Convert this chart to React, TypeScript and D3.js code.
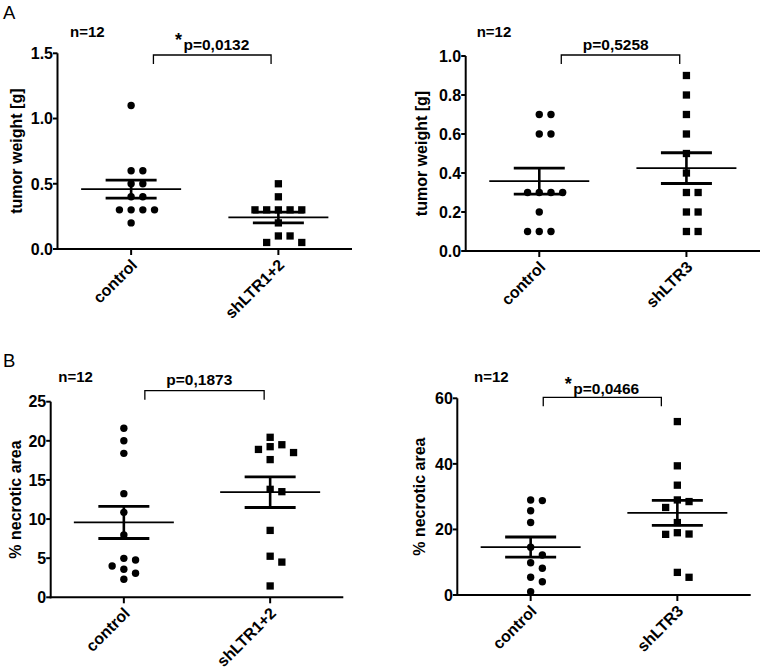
import React from 'react';
import * as d3 from 'd3';

// ---------- DATA ----------
const catsA1 = ['control', 'shLTR1+2'];
const a1Control = [1.1, 0.6, 0.6, 0.5, 0.5, 0.4, 0.4, 0.3, 0.3, 0.3, 0.3, 0.2];
const a1Sh = [0.5, 0.4, 0.3, 0.3, 0.3, 0.3, 0.3, 0.2, 0.1, 0.1, 0.05, 0.05];
const a1Ticks = [0, 0.5, 1.0, 1.5];

const catsA2 = ['control', 'shLTR3'];
const a2Control = [0.7, 0.7, 0.6, 0.6, 0.3, 0.3, 0.3, 0.3, 0.2, 0.1, 0.1, 0.1];
const a2Sh = [0.9, 0.8, 0.7, 0.6, 0.5, 0.4, 0.3, 0.3, 0.2, 0.2, 0.1, 0.1];
const a2Ticks = [0, 0.2, 0.4, 0.6, 0.8, 1.0];

const catsB1 = ['control', 'shLTR1+2'];
const b1Control = [21.6, 20.0, 18.4, 13.25, 10.86, 7.96, 4.98, 4.77, 4.0, 3.58, 3.07, 2.3];
const b1Sh = [20.45, 19.5, 18.9, 19.25, 18.5, 17.6, 13.8, 13.5, 8.55, 5.25, 4.5, 1.45];
const b1Ticks = [0, 5, 10, 15, 20, 25];

const catsB2 = ['control', 'shLTR3'];
const b2Control = [28.8, 29.0, 25.7, 22.1, 14.55, 12.2, 9.85, 8.15, 5.4, 4.06, 1.0];
const b2Sh = [52.9, 39.4, 33.5, 29.0, 28.5, 26.7, 22.1, 18.6, 18.5, 19.0, 5.4, 6.9];
const b2Ticks = [0, 20, 40, 60];

const pA1 = 'p=0,0132';
const pA2 = 'p=0,5258';
const pB1 = 'p=0,1873';
const pB2 = 'p=0,0466';
const nText = 'n=12';
const yTitleA = 'tumor weight [g]';
const yTitleB = '% necrotic area';

// ---------- LAYOUT ----------
const FONT = '"Liberation Sans", Arial, Helvetica, sans-serif';

type Panel = {
  letter?: string;
  letterY?: number;
  cats: string[];
  series: number[][];
  domain: [number, number];
  ticks: number[];
  fmt: (v: number) => string;
  yTitle: string;
  pText: string;
  star: boolean;
  x0: number; x1: number; yTop: number; yBot: number;
  bracket: [number, number]; bracketTop: number;
  pBase: number;
  nX: number; nBase: number;
  titleX: number;
};

const f1 = d3.format('.1f');
const f0 = d3.format('d');

const panels: Panel[] = [
  {
    letter: 'A', letterY: 18.5,
    cats: catsA1, series: [a1Control, a1Sh], domain: [0, 1.5], ticks: a1Ticks, fmt: f1,
    yTitle: yTitleA, pText: pA1, star: true,
    x0: 57.5, x1: 352, yTop: 53.3, yBot: 249,
    bracket: [22.3, -7.3], bracketTop: 55, pBase: 50,
    nX: 70, nBase: 36.7, titleX: 22,
  },
  {
    cats: catsA2, series: [a2Control, a2Sh], domain: [0, 1.0], ticks: a2Ticks, fmt: f1,
    yTitle: yTitleA, pText: pA2, star: false,
    x0: 465.7, x1: 760, yTop: 56, yBot: 251,
    bracket: [22, -6.7], bracketTop: 55, pBase: 50,
    nX: 476.7, nBase: 36.7, titleX: 427,
  },
  {
    letter: 'B', letterY: 367.3,
    cats: catsB1, series: [b1Control, b1Sh], domain: [0, 25], ticks: b1Ticks, fmt: f0,
    yTitle: yTitleB, pText: pB1, star: false,
    x0: 50.7, x1: 343.3, yTop: 401.7, yBot: 597.3,
    bracket: [21, -6], bracketTop: 390.7, pBase: 385,
    nX: 58.3, nBase: 382.3, titleX: 20.5,
  },
  {
    cats: catsB2, series: [b2Control, b2Sh], domain: [0, 60], ticks: b2Ticks, fmt: f0,
    yTitle: yTitleB, pText: pB2, star: true,
    x0: 457.3, x1: 750.7, yTop: 398.3, yBot: 595,
    bracket: [12.6, -16], bracketTop: 397.3, pBase: 394,
    nX: 474, nBase: 381.7, titleX: 425,
  },
];

const SLOT = 11.7;
const THRESH = 8.5;
const R = 3.7;
const SQ = 7.3;

function swarm(values: number[], y: (v: number) => number) {
  const order = values.map((v, i) => ({ v, i })).sort((a, b) => b.v - a.v);
  const placed: { py: number; s: number }[] = [];
  const out: { v: number; dx: number; py: number }[] = new Array(values.length);
  const cands = [0, 1, -1, 2, -2, 3, -3, 4, -4, 5, -5];
  for (const { v, i } of order) {
    const py = y(v);
    let chosen = 0;
    for (const c of cands) {
      if (!placed.some((p) => p.s === c && Math.abs(p.py - py) < THRESH)) {
        chosen = c;
        break;
      }
    }
    placed.push({ py, s: chosen });
    out[i] = { v, dx: chosen * SLOT, py };
  }
  return out;
}

function PanelView({ p }: { p: Panel }) {
  const x = d3.scalePoint<string>().domain(p.cats).range([p.x0, p.x1]).padding(0.5);
  const y = d3.scaleLinear().domain(p.domain).range([p.yBot, p.yTop]);
  const bx0 = (x(p.cats[0]) as number) + p.bracket[0];
  const bx1 = (x(p.cats[1]) as number) + p.bracket[1];
  const midY = (p.yTop + p.yBot) / 2;
  return (
    <g>
      {p.letter && (
        <text x={3} y={p.letterY} fontSize={18.5} fontFamily={FONT} fill="#000">
          {p.letter}
        </text>
      )}
      <text x={p.nX} y={p.nBase} fontSize={15} fontWeight="bold" fontFamily={FONT}>
        {nText}
      </text>
      {/* bracket */}
      <path
        d={`M${bx0},${p.bracketTop + 9}V${p.bracketTop}H${bx1}V${p.bracketTop + 9}`}
        fill="none"
        stroke="#000"
        strokeWidth={1.3}
      />
      <text x={bx0 + 21.5} y={p.pBase} fontSize={15.5} fontWeight="bold" fontFamily={FONT}>
        {p.star && (
          <tspan fontSize={18} dy={-4}>
            *
          </tspan>
        )}
        <tspan dx={p.star ? 1.5 : 0} dy={p.star ? 4 : 0}>
          {p.pText}
        </tspan>
      </text>
      {/* y title */}
      <text
        transform={`translate(${p.titleX},${midY}) rotate(-90)`}
        textAnchor="middle"
        fontSize={16}
        fontWeight="bold"
        fontFamily={FONT}
      >
        {p.yTitle}
      </text>
      {/* y axis */}
      <line x1={p.x0} x2={p.x0} y1={p.yTop} y2={p.yBot + 1} stroke="#000" strokeWidth={2} />
      {p.ticks.map((t) => (
        <g key={t}>
          <line x1={p.x0 - 4.5} x2={p.x0} y1={y(t)} y2={y(t)} stroke="#000" strokeWidth={2} />
          <text
            x={p.x0 - 4.5}
            y={y(t)}
            dy="0.36em"
            textAnchor="end"
            fontSize={16}
            fontWeight="bold"
            fontFamily={FONT}
          >
            {p.fmt(t)}
          </text>
        </g>
      ))}
      {/* x axis */}
      <line x1={p.x0 - 1} x2={p.x1} y1={p.yBot} y2={p.yBot} stroke="#000" strokeWidth={2} />
      {p.cats.map((c) => (
        <g key={c}>
          <line
            x1={x(c) as number}
            x2={x(c) as number}
            y1={p.yBot}
            y2={p.yBot + 6}
            stroke="#000"
            strokeWidth={2}
          />
          <text
            transform={`translate(${(x(c) as number) + 7},${p.yBot + 17}) rotate(-45)`}
            textAnchor="end"
            fontSize={16}
            fontWeight="bold"
            fontFamily={FONT}
          >
            {c}
          </text>
        </g>
      ))}
      {/* points and error bars */}
      {p.series.map((vals, si) => {
        const cx = x(p.cats[si]) as number;
        const pts = swarm(vals, y);
        const m = d3.mean(vals) as number;
        const sem = (d3.deviation(vals) as number) / Math.sqrt(vals.length);
        return (
          <g key={si}>
            {pts.map((pt, i) =>
              si === 0 ? (
                <circle key={i} cx={cx + pt.dx} cy={pt.py} r={R} fill="#000" />
              ) : (
                <rect
                  key={i}
                  x={cx + pt.dx - SQ / 2}
                  y={pt.py - SQ / 2}
                  width={SQ}
                  height={SQ}
                  fill="#000"
                />
              )
            )}
            <line x1={cx - 50} x2={cx + 50} y1={y(m)} y2={y(m)} stroke="#000" strokeWidth={1.8} />
            <line x1={cx - 25.5} x2={cx + 25.5} y1={y(m + sem)} y2={y(m + sem)} stroke="#000" strokeWidth={2.8} />
            <line x1={cx - 25.5} x2={cx + 25.5} y1={y(m - sem)} y2={y(m - sem)} stroke="#000" strokeWidth={2.8} />
            <line x1={cx} x2={cx} y1={y(m + sem)} y2={y(m - sem)} stroke="#000" strokeWidth={2.6} />
          </g>
        );
      })}
    </g>
  );
}

export default function App() {
  return (
    <svg
      width={764}
      height={670}
      viewBox="0 0 764 670"
      style={{ position: 'absolute', left: 0, top: 0, background: '#fff' }}
    >
      <rect x={0} y={0} width={764} height={670} fill="#fff" />
      {panels.map((p, i) => (
        <PanelView key={i} p={p} />
      ))}
    </svg>
  );
}
